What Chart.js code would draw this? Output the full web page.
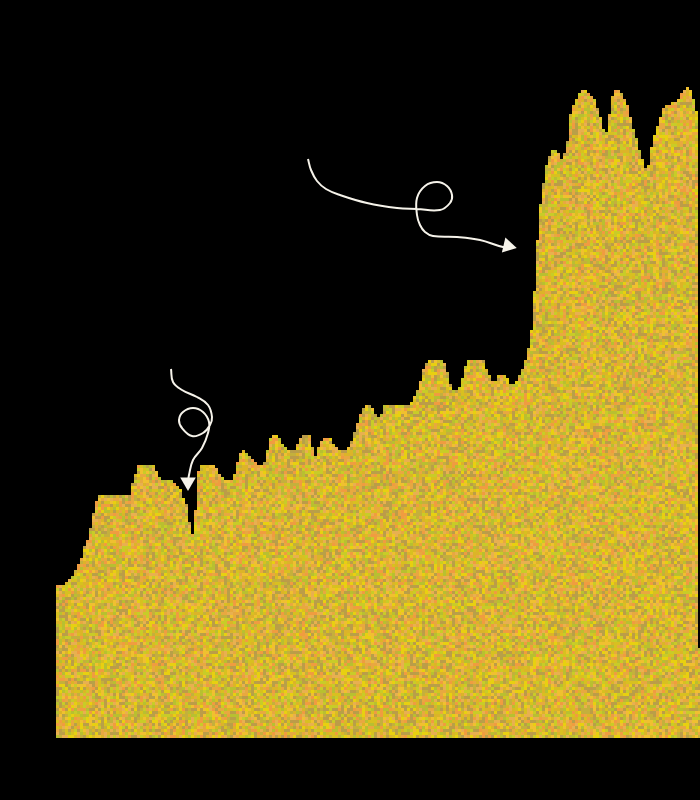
<!DOCTYPE html>
<html>
<head>
<meta charset="utf-8">
<title>Area chart</title>
<script src="https://cdn.jsdelivr.net/npm/chart.js@4"></script>
<style>
html, body { margin: 0; padding: 0; background: #000; }
canvas { display: block; }
</style>
</head>
<body>
<canvas id="areaChart" width="700" height="800"></canvas>
<script>
// height of the area, one value per 3-unit column
const columnHeights = [
    153, 153, 153, 156, 159, 162, 168, 174, 180, 192,
    198, 210, 225, 237, 243, 243, 243, 243, 243, 243,
    243, 243, 243, 243, 243, 255, 264, 273, 273, 273,
    273, 273, 273, 267, 261, 258, 258, 258, 258, 255,
    252, 249, 240, 234, 216, 204, 228, 267, 273, 273,
    273, 273, 273, 270, 264, 261, 258, 258, 258, 264,
    276, 285, 288, 285, 282, 279, 276, 273, 273, 276,
    288, 300, 303, 303, 300, 294, 291, 288, 288, 288,
    294, 300, 303, 303, 303, 291, 282, 291, 297, 300,
    300, 300, 294, 291, 288, 288, 288, 291, 297, 306,
    315, 324, 330, 333, 333, 330, 324, 321, 324, 333,
    333, 333, 333, 333, 333, 333, 333, 333, 336, 342,
    348, 357, 369, 375, 378, 378, 378, 378, 378, 375,
    366, 354, 348, 348, 351, 360, 372, 378, 378, 378,
    378, 378, 378, 369, 363, 357, 357, 363, 363, 363,
    360, 354, 354, 357, 363, 369, 378, 390, 408, 447,
    498, 534, 555, 573, 582, 588, 588, 585, 579, 585,
    597, 624, 633, 639, 645, 648, 648, 645, 642, 639,
    630, 621, 609, 606, 624, 642, 648, 648, 645, 639,
    633, 621, 609, 600, 588, 579, 570, 573, 591, 603,
    612, 621, 630, 633, 633, 636, 636, 639, 645, 648,
    651, 648, 639, 627, 90
];

// annotation curves
const upperArrowX = [252, 255, 261, 270, 284, 311, 341, 361, 384, 394, 396, 391, 381, 369, 361, 361, 364, 369, 377, 401, 424, 447, 452];
const upperArrowY = [579, 568, 557, 549, 543, 535, 530, 529, 528, 535, 543, 552, 556, 552, 540, 523, 513, 506, 502, 501, 498, 491, 492];
const lowerArrowX = [115, 117, 126, 141, 152, 156, 154, 147, 136, 126, 123, 127, 137, 147, 153, 152, 146, 137, 133, 132];
const lowerArrowY = [369, 356, 348, 341, 333, 321, 313, 305, 302, 310, 318, 326, 330, 326, 316, 305, 290, 278, 263, 256];

const COLUMN_WIDTH = 3;
const AREA_COLORS = ['#e8d010', '#d8c020', '#f09c40', '#e8a840', '#e8b050', '#bc9c48', '#b8c030', '#c8cc28', '#c4b03c', '#dcb428', '#b8a048', '#f0c030'];
const ARROW_COLOR = '#f6f3ea';

/**
 * noise texture for the area fill
 *
 * @returns {CanvasPattern} pattern
 */
function createNoisePattern() {
    const tile = document.createElement('canvas');
    tile.width = 702;
    tile.height = 801;
    const tileCtx = tile.getContext('2d');
    let seed = 20231;
    for (let y = 0; y < tile.height; y += COLUMN_WIDTH) {
        for (let x = 0; x < tile.width; x += COLUMN_WIDTH) {
            seed = (seed * 16807) % 2147483647;
            tileCtx.fillStyle = AREA_COLORS[(seed >> 12) % AREA_COLORS.length];
            tileCtx.fillRect(x, y, COLUMN_WIDTH, COLUMN_WIDTH);
        }
    }
    const pattern = document.getElementById('areaChart').getContext('2d').createPattern(tile, 'repeat');
    // cells start at the left edge of the area
    pattern.setTransform(new DOMMatrix().translate(2, 0));
    return pattern;
}

/**
 * dataset for one curved arrow, the head sits on the last point
 *
 * @param {number[]} xs x values
 * @param {number[]} ys y values
 * @param {number} headAngle rotation of the head
 * @returns {object} dataset
 */
function arrowDataset(xs, ys, headAngle) {
    const last = xs.length - 1;
    return {
        type: 'scatter',
        showLine: true,
        data: xs.map((x, i) => ({ x: x, y: ys[i] })),
        borderColor: ARROW_COLOR,
        borderWidth: 2,
        tension: 0.4,
        pointStyle: 'triangle',
        pointBackgroundColor: ARROW_COLOR,
        pointBorderWidth: 0,
        pointRotation: headAngle,
        pointRadius: (ctx) => (ctx.dataIndex === last ? 9 : 0),
        order: 0
    };
}

const areaPoints = columnHeights.map((h, i) => ({ x: i * COLUMN_WIDTH, y: h }));
areaPoints.push({ x: 644, y: columnHeights[columnHeights.length - 1] });

new Chart(document.getElementById('areaChart'), {
    type: 'line',
    data: {
        datasets: [
            {
                data: areaPoints,
                stepped: true,
                fill: 'origin',
                backgroundColor: createNoisePattern(),
                borderWidth: 0,
                pointRadius: 0,
                order: 1
            },
            arrowDataset(upperArrowX, upperArrowY, 103),
            arrowDataset(lowerArrowX, lowerArrowY, 180)
        ]
    },
    options: {
        responsive: false,
        animation: false,
        devicePixelRatio: 1,
        layout: { autoPadding: false, padding: { left: 56, right: 0, top: 0, bottom: 62 } },
        scales: {
            x: { type: 'linear', display: false, min: 0, max: 644 },
            y: { display: false, min: 0, max: 738 }
        },
        plugins: {
            legend: { display: false },
            tooltip: { enabled: false }
        }
    }
});
</script>
</body>
</html>
